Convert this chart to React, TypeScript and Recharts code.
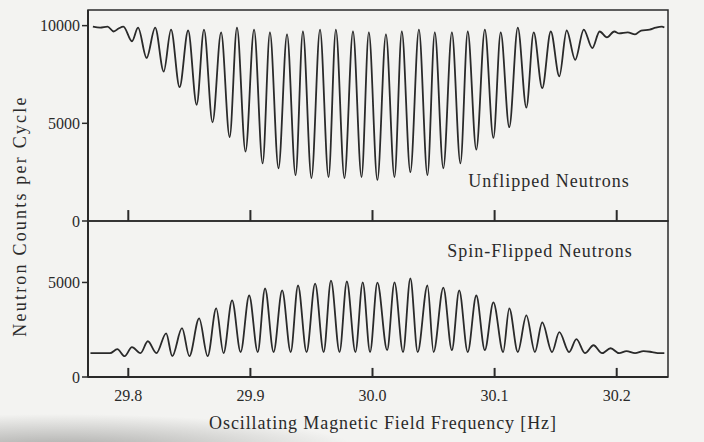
import { LineChart, Line, XAxis, YAxis, ReferenceArea, ReferenceLine } from 'recharts';

// frequency [Hz] / neutron counts per cycle
const freqTicks = [29.8, 29.9, 30.0, 30.1, 30.2];
const unflippedTicks = [0, 5000, 10000];
const flippedTicks = [0, 5000];

const unflippedScan = [
  [29.771, 9950], [29.777, 9900], [29.783, 9950], [29.788, 9700], [29.792, 9850], [29.796, 9950],
  [29.803, 9200], [29.808, 9900], [29.815, 8350], [29.822, 9900], [29.829, 7650], [29.835, 9800],
  [29.842, 6850], [29.849, 9750], [29.856, 5950], [29.862, 9800], [29.869, 5050], [29.876, 9650],
  [29.883, 4300], [29.889, 9900], [29.896, 3550], [29.903, 9800], [29.910, 2950], [29.916, 9650],
  [29.923, 2700], [29.930, 9550], [29.937, 2350], [29.943, 9700], [29.950, 2200], [29.957, 9800],
  [29.964, 2250], [29.970, 9800], [29.977, 2200], [29.984, 9700], [29.991, 2250], [29.997, 9650],
  [30.004, 2100], [30.011, 9550], [30.018, 2250], [30.024, 9700], [30.031, 2500], [30.038, 9800],
  [30.045, 2350], [30.051, 9650], [30.058, 2700], [30.065, 9650], [30.072, 2950], [30.078, 9700],
  [30.085, 3650], [30.092, 9800], [30.099, 4250], [30.105, 9650], [30.112, 4800], [30.119, 9900],
  [30.126, 5800], [30.132, 9650], [30.139, 6800], [30.146, 9700], [30.153, 7400], [30.159, 9750],
  [30.166, 8250], [30.173, 9800], [30.180, 8850], [30.186, 9700], [30.192, 9400], [30.198, 9700],
  [30.202, 9600], [30.209, 9650], [30.215, 9550], [30.220, 9750], [30.227, 9800], [30.232, 9900],
  [30.237, 9950], [30.239, 9900],
];

const flippedScan = [
  [29.769, 1260], [29.785, 1260], [29.791, 1470], [29.797, 1100], [29.803, 1580], [29.810, 1260],
  [29.816, 1890], [29.823, 1260], [29.831, 2310], [29.836, 1100], [29.844, 2580], [29.850, 1100],
  [29.858, 3100], [29.865, 1100], [29.872, 3630], [29.878, 1260], [29.885, 4050], [29.892, 1320],
  [29.899, 4310], [29.906, 1320], [29.912, 4680], [29.919, 1320], [29.926, 4580], [29.933, 1320],
  [29.939, 4840], [29.946, 1320], [29.953, 4940], [29.960, 1320], [29.966, 5100], [29.973, 1320],
  [29.979, 5050], [29.986, 1320], [29.992, 5000], [29.998, 1320], [30.004, 4990], [30.012, 1420],
  [30.018, 5000], [30.025, 1320], [30.031, 5210], [30.037, 1320], [30.045, 4840], [30.050, 1320],
  [30.058, 4730], [30.065, 1420], [30.071, 4580], [30.078, 1320], [30.085, 4310], [30.092, 1420],
  [30.099, 3950], [30.107, 1320], [30.112, 3630], [30.119, 1320], [30.126, 3260], [30.133, 1320],
  [30.139, 2890], [30.147, 1320], [30.153, 2370], [30.161, 1320], [30.167, 2000], [30.174, 1260],
  [30.181, 1680], [30.188, 1260], [30.195, 1520], [30.202, 1260], [30.208, 1370], [30.215, 1260],
  [30.222, 1370], [30.229, 1320], [30.235, 1260], [30.239, 1260],
];

const unflipped = unflippedScan.map(([f, c]) => ({ f, c }));
const flipped = flippedScan.map(([f, c]) => ({ f, c }));

const xDomain = [29.767, 30.242];
const ink = '#2a2a2a';
const serif = '"Liberation Serif", "Times New Roman", serif';
const tickFont = { fill: ink, fontSize: 16, fontFamily: serif };

// inward tick marks along the bottom edge of a panel
function innerTicks(len: number) {
  return freqTicks.map((t) => (
    <ReferenceLine
      key={t}
      segment={[{ x: t, y: 0 }, { x: t, y: len }]}
      stroke={ink}
      strokeWidth={2}
      ifOverflow="visible"
    />
  ));
}

export default function App() {
  return (
    <div
      style={{
        position: 'absolute',
        left: 0,
        top: 0,
        width: 704,
        height: 442,
        fontFamily: serif,
        background:
          'radial-gradient(ellipse 300px 36px at 60px 450px, #a9a9a7 0%, rgba(240,240,238,0) 100%), #f3f3f1',
        overflow: 'hidden',
      }}
    >
      {/* Unflipped panel */}
      <div style={{ position: 'absolute', left: 0, top: 0 }}>
        <LineChart width={704} height={230} margin={{ top: 10, right: 36, left: 0, bottom: 9 }}>
          <XAxis
            type="number"
            dataKey="f"
            domain={xDomain}
            ticks={freqTicks}
            allowDataOverflow
            height={0}
            tick={false}
            tickLine={false}
            axisLine={{ stroke: ink, strokeWidth: 2 }}
          />
          <YAxis
            type="number"
            domain={[0, 10800]}
            ticks={unflippedTicks}
            interval={0}
            allowDataOverflow
            width={88}
            tickSize={6}
            tickMargin={2}
            tick={tickFont}
            axisLine={{ stroke: ink, strokeWidth: 2 }}
            tickLine={{ stroke: ink, strokeWidth: 1.5 }}
          />
          <ReferenceArea x1={xDomain[0]} x2={xDomain[1]} y1={0} y2={10800} fill="none" stroke={ink} strokeWidth={1.5} />
          {innerTicks(560)}
          <Line data={unflipped} dataKey="c" type="monotone" stroke={ink} strokeWidth={1.8} dot={false} isAnimationActive={false} />
        </LineChart>
      </div>

      {/* Spin-flipped panel */}
      <div style={{ position: 'absolute', left: 0, top: 211 }}>
        <LineChart width={704} height={231} margin={{ top: 10, right: 36, left: 0, bottom: 10 }}>
          <XAxis
            type="number"
            dataKey="f"
            domain={xDomain}
            ticks={freqTicks}
            interval={0}
            allowDataOverflow
            height={55}
            tickLine={false}
            tickMargin={7}
            tickFormatter={(v: number) => v.toFixed(1)}
            tick={tickFont}
            axisLine={{ stroke: ink, strokeWidth: 2 }}
          />
          <YAxis
            type="number"
            domain={[0, 8250]}
            ticks={flippedTicks}
            interval={0}
            allowDataOverflow
            width={88}
            tickSize={6}
            tickMargin={2}
            tick={tickFont}
            axisLine={{ stroke: ink, strokeWidth: 2 }}
            tickLine={{ stroke: ink, strokeWidth: 1.5 }}
          />
          <ReferenceArea x1={xDomain[0]} x2={xDomain[1]} y1={0} y2={8250} fill="none" stroke={ink} strokeWidth={1.5} />
          {innerTicks(480)}
          <Line data={flipped} dataKey="c" type="monotone" stroke={ink} strokeWidth={1.8} dot={false} isAnimationActive={false} />
        </LineChart>
      </div>

      {/* titles and panel labels */}
      <svg width={704} height={442} style={{ position: 'absolute', left: 0, top: 0, pointerEvents: 'none' }}>
        <g fontFamily={serif} fill={ink}>
          <text x={549} y={183} fontSize={18} letterSpacing={1} textAnchor="middle" dominantBaseline="middle">Unflipped Neutrons</text>
          <text x={540} y={253} fontSize={18} letterSpacing={1} textAnchor="middle" dominantBaseline="middle">Spin-Flipped Neutrons</text>
          <text x={383} y={425} fontSize={18} letterSpacing={0.9} textAnchor="middle" dominantBaseline="middle">Oscillating Magnetic Field Frequency [Hz]</text>
          <text transform="translate(22,216) rotate(-90)" fontSize={18} letterSpacing={2.2} textAnchor="middle" dominantBaseline="middle">Neutron Counts per Cycle</text>
        </g>
      </svg>
    </div>
  );
}
